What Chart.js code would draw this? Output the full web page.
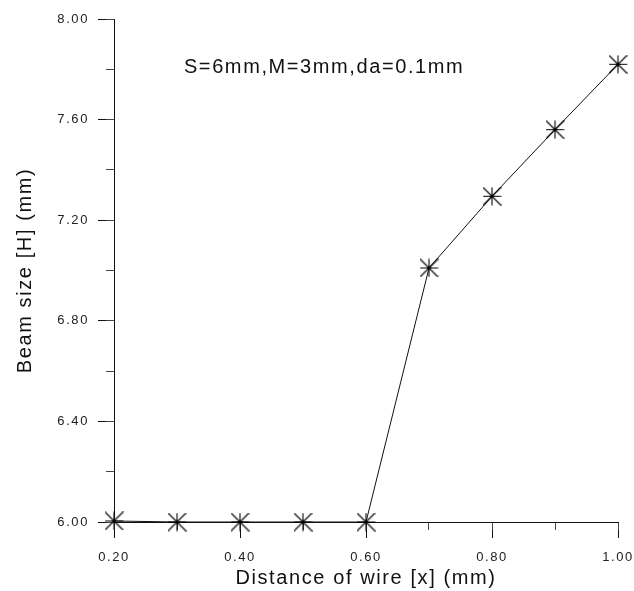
<!DOCTYPE html>
<html>
<head>
<meta charset="utf-8">
<script src="https://cdn.jsdelivr.net/npm/chart.js@4.4.0/dist/chart.umd.min.js"></script>
<style>
  html, body { margin: 0; padding: 0; background: #fff; }
  #wrap { width: 634px; height: 591px; }
</style>
</head>
<body>
<div id="wrap"><canvas id="chart"></canvas></div>
<script>
// values
const wire_distance = [0.2, 0.3, 0.4, 0.5, 0.6, 0.7, 0.8, 0.9, 1.0];
const beam_size = [6.004, 6.0, 6.0, 6.0, 6.0, 7.01, 7.295, 7.56, 7.82];
const note_text = "S=6mm,M=3mm,da=0.1mm";
const note_pos = { x: 0.311, y: 7.806 };
const x_title = "Distance of wire [x] (mm)";
const y_title = "Beam size [H] (mm)";

const font_family = "'Liberation Sans', Arial, sans-serif";
const spacing = "1.6px";

// 8 arm asterisk, square extent
function makeStar(size) {
  const c = document.createElement("canvas");
  c.width = size;
  c.height = size;
  const g = c.getContext("2d");
  const m = size / 2;
  const r = m - 0.5;
  g.strokeStyle = "#000";
  g.lineWidth = 1.1;
  g.beginPath();
  g.moveTo(m, m - r); g.lineTo(m, m + r);
  g.moveTo(m - r, m); g.lineTo(m + r, m);
  g.moveTo(m - r, m - r); g.lineTo(m + r, m + r);
  g.moveTo(m + r, m - r); g.lineTo(m - r, m + r);
  g.stroke();
  return c;
}

let points = [];
for (let i = 0; i < wire_distance.length; i++) {
  points.push({ x: wire_distance[i], y: beam_size[i] });
}

const spacingPlugin = {
  id: "spacing",
  beforeUpdate: function (chart) { chart.ctx.letterSpacing = spacing; },
  beforeLayout: function (chart) { chart.ctx.letterSpacing = spacing; },
  beforeDraw: function (chart) { chart.ctx.letterSpacing = spacing; }
};

const notePlugin = {
  id: "note",
  afterDatasetsDraw: function (chart) {
    const ctx = chart.ctx;
    ctx.save();
    ctx.font = "20px " + font_family;
    ctx.fillStyle = "#111";
    ctx.textAlign = "left";
    ctx.textBaseline = "middle";
    ctx.fillText(note_text, chart.scales.x.getPixelForValue(note_pos.x), chart.scales.y.getPixelForValue(note_pos.y));
    ctx.restore();
  }
};

function fixX (h) {
  return function (s) {
    s.height = h;
    s.paddingLeft = 0;
    s.paddingRight = 0;
  };
}

function fixY (w) {
  return function (s) {
    s.width = w;
    s.paddingTop = 0;
    s.paddingBottom = 0;
  };
}

new Chart(document.getElementById("chart"), {
  type: "line",
  data: {
    datasets: [{
      data: points,
      borderColor: "#111",
      borderWidth: 1,
      lineTension: 0,
      fill: false,
      pointStyle: makeStar(19),
      pointRadius: 9,
      clip: false
    }]
  },
  plugins: [spacingPlugin, notePlugin],
  options: {
    responsive: true,
    maintainAspectRatio: false,
    animation: false,
    layout: { padding: { left: 0, right: 16, top: 19, bottom: 0 } },
    plugins: {
      legend: { display: false },
      tooltip: { enabled: false }
    },
    scales: {
      x: {
        type: "linear",
        position: "bottom",
        min: 0.2,
        max: 1.0,
        weight: 0,
        afterFit: fixX(69),
        grid: { drawOnChartArea: false, tickLength: 16, tickColor: "#111" },
        border: { color: "#111", width: 1 },
        ticks: {
          stepSize: 0.2,
          padding: 12,
          color: "#222",
          font: { family: font_family, size: 13 },
          maxRotation: 0,
          callback: function (v) { return Number(v).toFixed(2); }
        },
        title: {
          display: true,
          text: x_title,
          color: "#111",
          font: { family: font_family, size: 20 },
          padding: { top: 0, bottom: 1 }
        }
      },
      xMinor: {
        type: "linear",
        position: "bottom",
        min: 0.2,
        max: 1.0,
        weight: -1,
        afterFit: fixX(0),
        grid: { drawOnChartArea: false, tickLength: 8, tickColor: "#444" },
        border: { display: false },
        ticks: { stepSize: 0.1, display: false }
      },
      y: {
        type: "linear",
        position: "left",
        min: 6.0,
        max: 8.0,
        weight: 0,
        afterFit: fixY(114),
        grid: { drawOnChartArea: false, tickLength: 16, tickColor: "#111" },
        border: { color: "#111", width: 1 },
        ticks: {
          stepSize: 0.4,
          padding: 9,
          color: "#222",
          font: { family: font_family, size: 13 },
          callback: function (v) { return Number(v).toFixed(2); }
        },
        title: {
          display: true,
          text: y_title,
          color: "#111",
          font: { family: font_family, size: 20 },
          padding: { top: 13, bottom: 0 }
        }
      },
      yMinor: {
        type: "linear",
        position: "left",
        min: 6.0,
        max: 8.0,
        weight: -1,
        afterFit: fixY(0),
        grid: { drawOnChartArea: false, tickLength: 8, tickColor: "#444" },
        border: { display: false },
        ticks: { stepSize: 0.2, display: false }
      }
    }
  }
});
</script>
</body>
</html>
